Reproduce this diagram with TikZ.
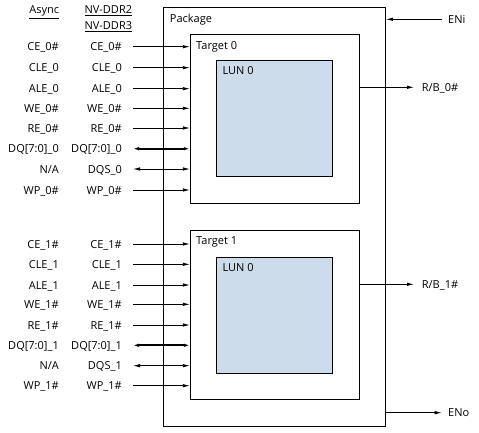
\documentclass[tikz,border=0pt]{standalone}
\usepackage{fontspec}
\setmainfont{Open Sans}
\usetikzlibrary{arrows.meta}
\definecolor{lunfill}{RGB}{204,220,234}
\begin{document}
\begin{tikzpicture}[x=1pt,y=-1pt,
  box/.style={draw, line width=0.9pt, inner sep=0pt},
  lbl/.style={font=\fontsize{11}{13}\selectfont, inner sep=0pt},
  sigin/.style={line width=0.8pt, -{Latex[length=7pt,width=3.5pt]}},
  sigbi/.style={line width=0.8pt, {Latex[length=7pt,width=3.5pt]}-{Latex[length=7pt,width=3.5pt]}},
  sigbus/.style={line width=1.8pt, {Latex[length=6pt,width=3.5pt]}-{Latex[length=6pt,width=3.5pt]}},
]
\useasboundingbox (0,0) rectangle (479,433);
% boxes
\node[box, minimum width=222.5pt, minimum height=419.4pt] (pkg) at (274.25,217) {};
\node[box, minimum width=169pt, minimum height=168.7pt] (t0) at (274.8,118.7) {};
\node[box, minimum width=169pt, minimum height=169pt] (t1) at (274.8,314.8) {};
\node[box, fill=lunfill, minimum width=116pt, minimum height=116pt] (l0) at (274.7,118.3) {};
\node[box, fill=lunfill, minimum width=116pt, minimum height=115.6pt] (l1) at (274.7,315.5) {};
% box labels
\node[lbl, anchor=base west] (pkglbl) at (169.7,22.3) {Package};
\node[lbl, anchor=base west] (t0lbl) at (196,49.7) {Target 0};
\node[lbl, anchor=base west] (t1lbl) at (196,244.7) {Target 1};
\node[lbl, anchor=base west] (l0lbl) at (222.3,75) {LUN 0};
\node[lbl, anchor=base west] (l1lbl) at (222.3,271.7) {LUN 0};
% headers
\node[lbl, anchor=base east] (hasync) at (59.3,14) {\underline{Async}};
\node[lbl, anchor=base east] (hnv2) at (132.3,14) {\underline{NV-DDR2}};
\node[lbl, anchor=base east] (hnv3) at (132.3,30) {\underline{NV-DDR3}};
% target 0 signals
\foreach \i/\y/\a/\b/\s in {
  1/46.7/CE\_0\#/CE\_0\#/sigin,
  2/67.7/CLE\_0/CLE\_0/sigin,
  3/88.7/ALE\_0/ALE\_0/sigin,
  4/108.3/WE\_0\#/WE\_0\#/sigin,
  5/128/RE\_0\#/RE\_0\#/sigin,
  6/148.7/DQ[7:0]\_0/DQ[7:0]\_0/sigbus,
  7/169/{N/A}/DQS\_0/sigbi,
  8/190/WP\_0\#/WP\_0\#/sigin}{
  \node[lbl, anchor=base east] (a0\i) at (59,\y+4) {\a};
  \node[lbl, anchor=base east] (b0\i) at (122,\y+4) {\b};
  \coordinate (s0\i) at (133,\y);
  \draw[\s] (s0\i) -- (s0\i -| t0.west);
}
% target 1 signals
\foreach \i/\y/\a/\b/\s in {
  1/244/CE\_1\#/CE\_1\#/sigin,
  2/264.3/CLE\_1/CLE\_1/sigin,
  3/285/ALE\_1/ALE\_1/sigin,
  4/304.3/WE\_1\#/WE\_1\#/sigin,
  5/325/RE\_1\#/RE\_1\#/sigin,
  6/345.3/DQ[7:0]\_1/DQ[7:0]\_1/sigbus,
  7/365.7/{N/A}/DQS\_1/sigbi,
  8/385.7/WP\_1\#/WP\_1\#/sigin}{
  \node[lbl, anchor=base east] (a1\i) at (59,\y+4) {\a};
  \node[lbl, anchor=base east] (b1\i) at (122,\y+4) {\b};
  \coordinate (s1\i) at (133,\y);
  \draw[\s] (s1\i) -- (s1\i -| t1.west);
}
% right side
\coordinate (eni) at (441.7,19.3);
\draw[sigin] (eni) -- (eni -| pkg.east);
\node[lbl, anchor=base west] (enilbl) at (448,23.3) {ENi};
\coordinate (rb0) at (414,87.3);
\draw[sigin] (rb0 -| t0.east) -- (rb0);
\node[lbl, anchor=base west] (rb0lbl) at (421.7,91.3) {R/B\_0\#};
\coordinate (rb1) at (414,284.3);
\draw[sigin] (rb1 -| t1.east) -- (rb1);
\node[lbl, anchor=base west] (rb1lbl) at (421.7,288.3) {R/B\_1\#};
\coordinate (eno) at (441.7,412.7);
\draw[sigin] (eno -| pkg.east) -- (eno);
\node[lbl, anchor=base west] (enolbl) at (448,416.7) {ENo};
\end{tikzpicture}
\end{document}
